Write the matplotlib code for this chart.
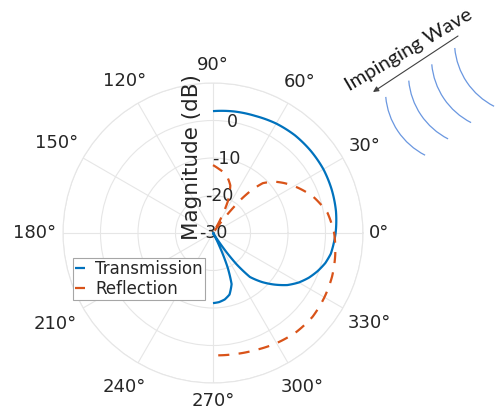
import numpy as np
import matplotlib
matplotlib.use("Agg")
import matplotlib.pyplot as plt
from matplotlib.patches import Arc

# ---------------- data ----------------
trans_angle_deg = [90, 80, 70, 60, 50, 40, 30, 20, 10, 0,
                   -10, -15, -20, -25, -30, -35, -40, -45, -50,
                   -53, -55, -57, -61, -64, -67, -70,
                   -75, -80, -85, -90]
trans_db = [2.5, 2.9, 3.2, 3.7, 4.0, 4.05, 4.0, 3.7, 3.3, 2.7,
            1.9, 1.0, -0.3, -1.8, -3.6, -5.8, -8.6, -11.5, -14.7,
            -19.5, -24.0, -30.0, -30.0, -26.0, -20.0, -15.5,
            -13.0, -12.0, -11.5, -11.3]

refl_angle_deg = [90, 85, 80, 75, 70, 65, 62, 59, 55, 52,
                  50, 48, 45, 40, 35, 30, 25, 20, 10, 0,
                  -10, -20, -30, -40, -50, -60, -70, -80, -90]
refl_db = [-11.9, -12.8, -13.6, -14.8, -16.5, -20.5, -25.0, -30.0, -30.0, -23.0,
           -18.0, -14.5, -11.2, -8.7, -6.8, -5.0, -3.3, -1.6, 1.0, 2.3,
           3.1, 3.8, 4.3, 4.7, 4.5, 3.9, 3.2, 2.8, 2.6]

series_names = ["Transmission", "Reflection"]
r_ticks = [-30, -20, -10, 0, 10]
r_tick_labels = ["-30", "-20", "-10", "0", ""]
theta_ticks_deg = [0, 30, 60, 90, 120, 150, 180, 210, 240, 270, 300, 330]
theta_tick_labels = [f"{a}\u00b0" for a in theta_ticks_deg]
theta_label_pads = [4.5, 11, 10.3, 6, 11.7, 15.3, 13.2, 16, 13.2, 6, 13.2, 15.3]

# ---------------- figure ----------------
W, H = 503, 415
fig = plt.figure(figsize=(W / 100, H / 100), dpi=100)
fig.patch.set_facecolor("white")

cx, cy, R = 213, 233, 150
ax = fig.add_axes([(cx - R) / W, (H - cy - R) / H, 2 * R / W, 2 * R / H],
                  projection="polar")

blue = "#0072BD"
orange = "#D95319"
txt = "#262626"
gridc = "#e6e6e6"

l1, = ax.plot(np.deg2rad(trans_angle_deg), np.maximum(trans_db, -30), color=blue,
              lw=1.6, label=series_names[0], solid_capstyle="butt")
l2, = ax.plot(np.deg2rad(refl_angle_deg), np.maximum(refl_db, -30), color=orange,
              lw=1.6, label=series_names[1], dashes=(5.0, 4.2), dash_capstyle="butt")
# let the polar transform draw each segment as a curve in (theta, r)
for ln in (l1, l2):
    ln.get_path()._interpolation_steps = 24
    ln.recache(always=True)

ax.set_rlim(-30, 10)
ax.set_yticks(r_ticks)
ax.set_yticklabels(r_tick_labels)
ax.set_rlabel_position(80)
for lab in ax.get_yticklabels():
    lab.set_horizontalalignment("center")
    lab.set_verticalalignment("center")
    lab.set_fontsize(12.5)
    lab.set_color(txt)

ax.set_xticks(np.deg2rad(theta_ticks_deg))
ax.set_xticklabels(theta_tick_labels, fontsize=13, color=txt)
ax.tick_params(length=0)
for t, p in zip(ax.xaxis.get_major_ticks(), theta_label_pads):
    t.set_pad(p)

ax.grid(True, color=gridc, lw=0.8)
ax.spines["polar"].set_color(gridc)
ax.spines["polar"].set_linewidth(0.8)
ax.set_facecolor("white")

leg = fig.legend(loc="upper left", bbox_to_anchor=(72.7 / W, (H - 257.7) / H),
                 borderaxespad=0, fontsize=12, frameon=True, fancybox=False,
                 edgecolor="#a6a6a6", framealpha=1, borderpad=0.14,
                 handlelength=0.6, handletextpad=0.6, labelspacing=0.1)
leg.get_frame().set_linewidth(0.8)
for t in leg.get_texts():
    t.set_color(txt)

fig.text(192 / W, (H - 157) / H, "Magnitude (dB)", rotation=90,
         ha="center", va="center", fontsize=15.5, color=txt)

# ---------------- "Impinging Wave" decoration ----------------
ov = fig.add_axes([0, 0, 1, 1], zorder=5)
ov.set_xlim(0, W)
ov.set_ylim(0, H)
ov.axis("off")
ov.patch.set_alpha(0)

arc_r = 72.5
arc_c0 = (458, H - 90.6)
arc_step = (23, 16.3)
for i in range(4):
    c = (arc_c0[0] + i * arc_step[0], arc_c0[1] + i * arc_step[1])
    ov.add_patch(Arc(c, 2 * arc_r, 2 * arc_r, theta1=185, theta2=243,
                     color="#6a97e0", lw=0.9))

ov.annotate("", xy=(373, H - 92), xytext=(458, H - 36),
            arrowprops=dict(arrowstyle="-|>", color="#404040", lw=0.8,
                            mutation_scale=8, shrinkA=0, shrinkB=0))
ov.text(349, H - 91, "Impinging Wave", rotation=30.6, rotation_mode="anchor",
        ha="left", va="baseline", fontsize=14.6, family="Lato", color="#1a1a1a")

fig.savefig("out.png", dpi=100, facecolor="white")
